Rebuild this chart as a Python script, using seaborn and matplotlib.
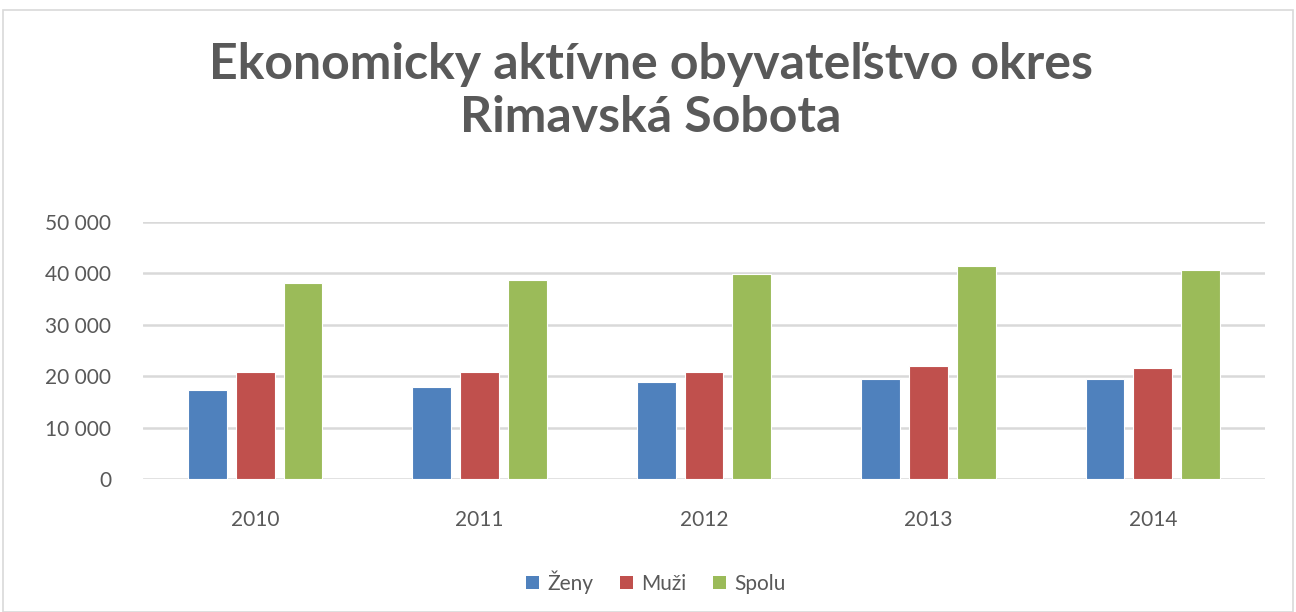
import matplotlib
matplotlib.use("Agg")
import matplotlib.pyplot as plt
import seaborn as sns
import pandas as pd
from matplotlib.patches import Rectangle, Patch

years = ["2010", "2011", "2012", "2013", "2014"]
zeny = [17400, 17900, 18800, 19400, 19400]
muzi = [20750, 20750, 20750, 21900, 21500]
spolu = [38200, 38700, 39850, 41400, 40700]
series = ["Ženy", "Muži", "Spolu"]
colors = ["#4F81BD", "#C0504D", "#9BBB59"]
yticks = [0, 10000, 20000, 30000, 40000, 50000]
title = "Ekonomicky aktívne obyvateľstvo okres\nRimavská Sobota"

df = pd.DataFrame({
    "year": years * 3,
    "value": zeny + muzi + spolu,
    "series": [series[0]] * 5 + [series[1]] * 5 + [series[2]] * 5,
})

sns.set_theme(style="white")
plt.rcParams["font.family"] = ["Lato", "DejaVu Sans"]
text_col = "#595959"

fig = plt.figure(figsize=(12.96, 6.12), dpi=100)
ax = fig.add_axes([143 / 1296, 1 - 479 / 612, (1265 - 143) / 1296, (479 - 222) / 612])

sns.barplot(data=df, x="year", y="value", hue="series", palette=colors,
            saturation=1, width=0.64, gap=0.19, ax=ax, legend=False,
            edgecolor="white", linewidth=0.8)

ax.set_ylim(0, 50000)
ax.set_xlim(-0.5, 4.5)
ax.set_yticks(yticks)
ax.set_yticklabels([f"{v:,}".replace(",", " ") for v in yticks])
ax.set_xlabel("")
ax.set_ylabel("")
ax.yaxis.grid(True, color="#d9d9d9", linewidth=1.8)
ax.set_axisbelow(True)
for s in ax.spines.values():
    s.set_visible(False)
ax.tick_params(axis="y", length=0, pad=23, labelsize=15, labelcolor=text_col)
ax.tick_params(axis="x", length=0, pad=22, labelsize=15, labelcolor=text_col)

fig.text(651 / 1296, 1 - 91 / 612, title, ha="center", va="center",
         fontsize=36, fontweight="bold", color=text_col, linespacing=1.22)

handles = [Patch(facecolor=c, edgecolor="none") for c in colors]
fig.legend(handles, series, loc="center", bbox_to_anchor=(656 / 1296, 1 - 582 / 612),
           ncol=3, frameon=False, fontsize=15, labelcolor=text_col,
           handlelength=0.6, handleheight=0.6, handletextpad=0.4, columnspacing=1.3)

fig.patches.append(Rectangle((3 / 1296, 0), 1290 / 1296, 1 - 10 / 612,
                             transform=fig.transFigure, fill=False,
                             edgecolor="#d9d9d9", linewidth=1.2))

fig.savefig("out.png", dpi=100, facecolor="white")
